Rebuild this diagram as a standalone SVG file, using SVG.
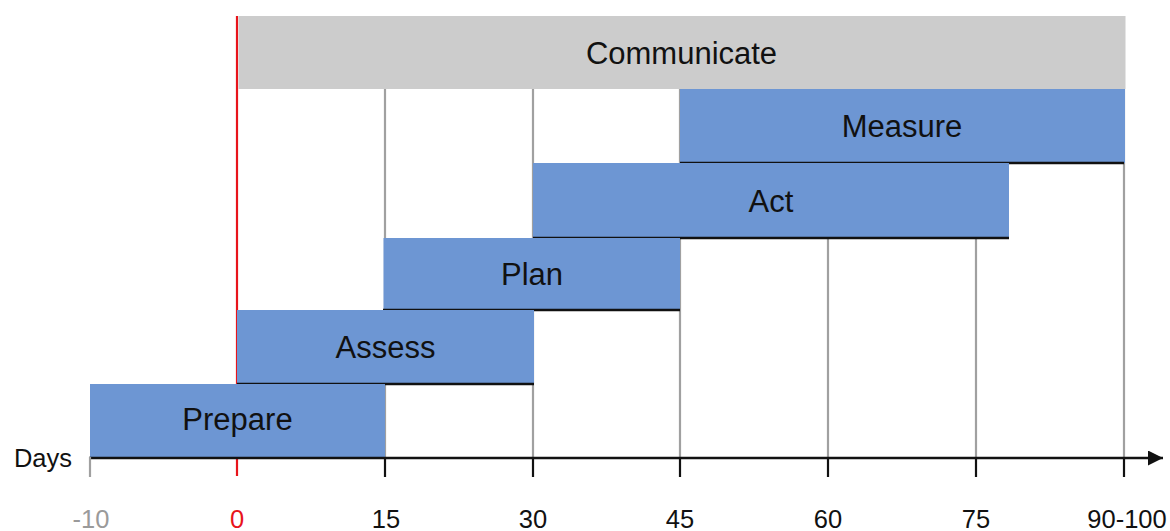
<svg xmlns="http://www.w3.org/2000/svg" width="1170" height="531" viewBox="0 0 1170 531">
  <style>
    .bar { fill: #6d96d3; }
    .comm { fill: #cccccc; }
    .edge { stroke: #111111; stroke-width: 2.4; fill: none; }
    .grid { stroke: #a0a0a0; stroke-width: 2.2; }
    .tick { stroke: #111111; stroke-width: 2.2; }
    .label { font-family: "Liberation Sans", Arial, sans-serif; font-size: 31px; fill: #111111; text-anchor: middle; }
    .axis-label { font-family: "Liberation Sans", Arial, sans-serif; font-size: 25.5px; fill: #111111; text-anchor: middle; }
  </style>
  <defs>
    <marker id="arrow" markerWidth="16" markerHeight="16" refX="15" refY="7.5" orient="auto" markerUnits="userSpaceOnUse">
      <path d="M0,0 L15,7.5 L0,15 Z" fill="#111111"/>
    </marker>
  </defs>

  <rect width="1170" height="531" fill="#ffffff"/>

  <!-- vertical guides at each 15-day step, plus the day-0 marker -->
  <g id="gridlines">
    <line class="grid" x1="385" y1="89" x2="385" y2="458"/>
    <line class="grid" x1="533" y1="89" x2="533" y2="458"/>
    <line class="grid" x1="680" y1="89" x2="680" y2="458"/>
    <line class="grid" x1="828" y1="89" x2="828" y2="458"/>
    <line class="grid" x1="976" y1="89" x2="976" y2="458"/>
    <line class="grid" x1="1124" y1="89" x2="1124" y2="458"/>
    <line x1="237" y1="16" x2="237" y2="476" stroke="#e8141b" stroke-width="2.2"/>
  </g>

  <g id="communicate">
    <rect class="comm" x="238.5" y="16" width="887" height="73"/>
    <text class="label" x="681.5" y="64">Communicate</text>
  </g>

  <g id="measure">
    <rect class="bar" x="680" y="89" width="445" height="74"/>
    <line class="edge" x1="680" y1="163" x2="1124" y2="163"/>
    <text class="label" x="902" y="137">Measure</text>
  </g>

  <g id="act">
    <rect class="bar" x="533" y="163" width="476" height="75"/>
    <line class="edge" x1="533" y1="238" x2="1009" y2="238"/>
    <text class="label" x="771" y="212">Act</text>
  </g>

  <g id="plan">
    <rect class="bar" x="383.5" y="238" width="296.5" height="72"/>
    <line class="edge" x1="383" y1="310" x2="680" y2="310"/>
    <text class="label" x="532" y="285">Plan</text>
  </g>

  <g id="assess">
    <rect class="bar" x="237" y="310" width="297" height="74"/>
    <line class="edge" x1="237" y1="384" x2="534" y2="384"/>
    <text class="label" x="385.5" y="358">Assess</text>
  </g>

  <g id="prepare">
    <rect class="bar" x="90" y="384" width="295" height="74"/>
    <text class="label" x="237.5" y="430">Prepare</text>
  </g>

  <!-- time axis with ticks and day labels -->
  <g id="axis">
    <line x1="89" y1="458" x2="1163" y2="458" stroke="#111111" stroke-width="2.6" marker-end="url(#arrow)"/>
    <line x1="90" y1="457" x2="90" y2="477" stroke="#a0a0a0" stroke-width="2.2"/>
    <line class="tick" x1="385" y1="458" x2="385" y2="477"/>
    <line class="tick" x1="533" y1="458" x2="533" y2="477"/>
    <line class="tick" x1="680" y1="458" x2="680" y2="477"/>
    <line class="tick" x1="828" y1="458" x2="828" y2="477"/>
    <line class="tick" x1="976" y1="458" x2="976" y2="477"/>
    <line class="tick" x1="1124" y1="458" x2="1124" y2="477"/>
    <text class="axis-label" x="43" y="467">Days</text>
    <text class="axis-label" x="91" y="528" style="fill:#9a9a9a">-10</text>
    <text class="axis-label" x="237" y="528" style="fill:#e8141b">0</text>
    <text class="axis-label" x="386" y="528">15</text>
    <text class="axis-label" x="533" y="528">30</text>
    <text class="axis-label" x="680" y="528">45</text>
    <text class="axis-label" x="828" y="528">60</text>
    <text class="axis-label" x="976" y="528">75</text>
    <text class="axis-label" x="1127" y="528">90-100</text>
  </g>
</svg>
